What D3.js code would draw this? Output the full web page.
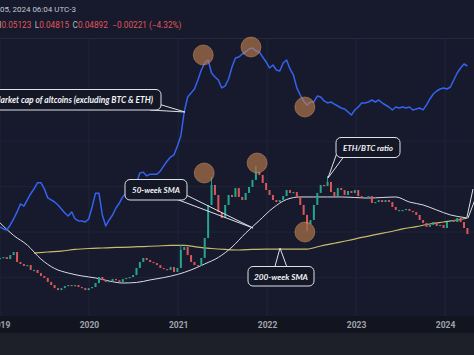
<!DOCTYPE html>
<html><head><meta charset="utf-8">
<script src="https://cdn.jsdelivr.net/npm/d3@7"></script>
<style>html,body{margin:0;padding:0;background:#171b2d;overflow:hidden}</style>
</head><body><svg id="c" width="474" height="355"></svg>
<script>
// ---------- DATA (bi-weekly samples from 2019-01-01) ----------
const ethOpen0 = 0.0350;
const ethClose = [0.0357,0.0362,0.0351,0.0373,0.0390,0.0335,0.0324,0.0313,0.0318,0.0291,
 0.0291,0.0274,0.0258,0.0247,0.0225,0.0208,0.0191,0.0180,0.0191,0.0202,
 0.0208,0.0202,0.0208,0.0197,0.0191,0.0180,0.0191,0.0197,0.0219,0.0252,
 0.0235,0.0225,0.0230,0.0241,0.0235,0.0225,0.0241,0.0247,0.0252,0.0263,
 0.0302,0.0335,0.0357,0.0346,0.0335,0.0329,0.0318,0.0302,0.0296,0.0291,
 0.0307,0.0280,0.0302,0.0401,0.0417,0.0373,0.0335,0.0318,0.0313,0.0357,
 0.0467,0.0649,0.0759,0.0704,0.0610,0.0577,0.0649,0.0704,0.0693,0.0742,
 0.0693,0.0676,0.0715,0.0748,0.0787,0.0831,0.0814,0.0770,0.0731,0.0704,
 0.0676,0.0665,0.0676,0.0698,0.0731,0.0715,0.0720,0.0693,0.0649,0.0594,
 0.0544,0.0566,0.0649,0.0715,0.0759,0.0753,0.0776,0.0720,0.0698,0.0742,
 0.0731,0.0704,0.0726,0.0715,0.0731,0.0698,0.0687,0.0693,0.0698,0.0660,
 0.0665,0.0676,0.0665,0.0676,0.0665,0.0638,0.0621,0.0621,0.0621,0.0627,
 0.0616,0.0610,0.0594,0.0566,0.0550,0.0528,0.0539,0.0555,0.0533,0.0539,
 0.0522,0.0555,0.0566,0.0555,0.0577,0.0555,0.0522,0.0489];
// notable wicks: [index, high, low]
const ethWicks = [[62,0.0803,null],[75,0.0864,null],[96,0.0809,null],[90,null,0.0506],[53,0.0430,null]];
// market cap of altcoins excl. BTC & ETH, $ billions
const altCap = [64.9,62.9,61.9,67.0,73.7,82.4,93.5,90.5,99.7,110,
 119,131,131,119,103,99.7,96.5,92.0,86.3,81.0,
 77.3,82.4,73.7,71.4,71.4,70.3,73.7,89.2,111,111,
 78.5,66.0,72.5,78.5,87.7,95.0,105,111,117,124,
 131,153,155,146,150,150,150,158,171,185,
 197,204,235,275,403,511,544,580,669,784,
 877,919,748,702,669,590,609,680,823,949,
 964,1011,1044,1095,1112,1061,1044,964,891,810,
 849,784,772,877,919,797,725,590,527,480,
 450,472,472,519,511,480,465,472,457,443,
 429,422,403,384,416,436,465,465,472,487,
 472,487,465,450,436,416,436,429,436,429,
 436,416,422,429,416,450,495,536,562,580,
 590,580,599,669,748,810,863,836];
const sma50Idx = [0,4,8,12,16,20,24,28,32,36,40,44,48,52,56,60,64,68,72,76,80,84,88,92,96,100,104,108,112,116,120,124,128,132,136,137];
const sma50 = [0.0550,0.0481,0.0428,0.0351,0.0299,0.0274,0.0258,0.0247,0.0230,0.0219,0.0222,0.0236,0.0249,0.0266,0.0291,0.0324,0.0360,0.0417,0.0494,0.0563,0.0632,0.0679,0.0693,0.0693,0.0693,0.0693,0.0690,0.0687,0.0690,0.0693,0.0665,0.0649,0.0621,0.0594,0.0580,0.0577];
const sma200Idx = [10,14,18,22,26,30,34,38,42,46,50,54,58,62,66,70,74,78,82,86,90,94,98,102,106,110,114,118,122,126,130,134,137];
const sma200 = [0.0384,0.0390,0.0395,0.0404,0.0409,0.0412,0.0415,0.0417,0.0420,0.0423,0.0426,0.0426,0.0417,0.0409,0.0404,0.0401,0.0404,0.0406,0.0406,0.0406,0.0406,0.0423,0.0438,0.0453,0.0470,0.0486,0.0500,0.0517,0.0530,0.0544,0.0555,0.0566,0.0577];
const altHighlights = [[59.6,995],[73.6,1130],[89.4,436]];
const ethHighlights = [[59.9,0.0825],[75.4,0.0880],[89.4,0.0500]];
const yearTicks = [2019,2020,2021,2022,2023,2024];
const headerDate = "05, 2024 06:04 UTC-3";
const ohlcLabels = ["H","L","C"];
const ohlcValues = ["0.05123","0.04815","0.04892"];
const changeText = "\u22120.00221 (\u22124.32%)";

// ---------- SCALES ----------
const W=474,H=355;
const start = new Date(2019,0,1);
const dateAt = i => d3.timeDay.offset(start, 14*i);
const x = d3.scaleTime().domain([new Date(2019,0,1), new Date(2024,0,1)]).range([0,445]);
const yEth = d3.scaleLinear().domain([0.05,0.088]).range([232,163]);
const yAlt = d3.scaleLog().domain([50,1130]).range([243.4,47]);

const svg = d3.select('#c');
svg.append('rect').attr('width',W).attr('height',H).attr('fill','#161a2c');

// grid
const grid = svg.append('g');
grid.selectAll('line.v').data(yearTicks).join('line')
  .attr('x1',d=>x(new Date(d,0,1))).attr('x2',d=>x(new Date(d,0,1)))
  .attr('y1',38).attr('y2',316).attr('stroke','#20253a').attr('stroke-width',1);
grid.selectAll('line.h').data([0.025,0.05,0.075,0.1]).join('line')
  .attr('x1',0).attr('x2',W).attr('y1',d=>yEth(d)).attr('y2',d=>yEth(d))
  .attr('stroke','#1e2336').attr('stroke-width',1);
grid.append('line').attr('x1',0).attr('x2',W).attr('y1',38.5).attr('y2',38.5).attr('stroke','#23283a');

// SMA lines
const smaLine = d3.line().x(d=>x(dateAt(d[0]))).y(d=>yEth(d[1])).curve(d3.curveMonotoneX);
svg.append('path').datum(sma200Idx.map((d,i)=>[d,sma200[i]]))
  .attr('d',smaLine).attr('fill','none').attr('stroke','#c9bb6c').attr('stroke-width',1.2);
svg.append('path').datum(sma50Idx.map((d,i)=>[d,sma50[i]]))
  .attr('d',smaLine).attr('fill','none').attr('stroke','#d9dbe3').attr('stroke-width',1);

// candles
const candles = ethClose.map((c,i)=>({i, o: i===0?ethOpen0:ethClose[i-1], c}));
const cg = svg.append('g');
const up='#26a48e', dn='#dc565a';
ethWicks.forEach(w=>{
  const d = candles[w[0]];
  const hi = w[1]!==null ? w[1] : Math.max(d.o,d.c);
  const lo = w[2]!==null ? w[2] : Math.min(d.o,d.c);
  cg.append('line').attr('x1',x(dateAt(d.i))).attr('x2',x(dateAt(d.i)))
    .attr('y1',yEth(hi)).attr('y2',yEth(lo))
    .attr('stroke', d.c>=d.o?up:dn).attr('stroke-width',1);
});
cg.selectAll('rect').data(candles).join('rect')
  .attr('x',d=>x(dateAt(d.i))-1).attr('width',2)
  .attr('y',d=>yEth(Math.max(d.o,d.c)))
  .attr('height',d=>Math.max(1.2,Math.abs(yEth(d.o)-yEth(d.c))))
  .attr('fill',d=>d.c>=d.o?up:dn);

// altcoin market cap line
svg.append('path').datum(altCap)
  .attr('d', d3.line().x((d,i)=>x(dateAt(i))).y(d=>yAlt(d)))
  .attr('fill','none').attr('stroke','#3562f0').attr('stroke-width',1.5).attr('stroke-linejoin','round');

// highlight circles
const hl = svg.append('g');
hl.selectAll('circle.a').data(altHighlights).join('circle')
  .attr('cx',d=>x(dateAt(d[0]))).attr('cy',d=>yAlt(d[1])).attr('r',10);
hl.selectAll('circle.e').data(ethHighlights).join('circle')
  .attr('cx',d=>x(dateAt(d[0]))).attr('cy',d=>yEth(d[1])).attr('r',10);
hl.selectAll('circle').attr('fill','#c8844e').attr('fill-opacity',0.6)
  .attr('stroke','#d99a66').attr('stroke-opacity',0.45).attr('stroke-width',1);

// callouts
function fit(t, width){
  const w = t.node().getComputedTextLength();
  const fs = parseFloat(t.attr('font-size'));
  t.attr('font-size', (fs*width/w).toFixed(2));
}
function callout(box, tails, text, tx, ty, tw, anchor){
  const g = svg.append('g');
  tails.forEach(l=>g.append('line').attr('x1',l[0]).attr('y1',l[1]).attr('x2',l[2]).attr('y2',l[3])
     .attr('stroke','#dfe1e8').attr('stroke-width',1));
  if(box){
    g.append('rect').attr('x',box[0]).attr('y',box[1]).attr('width',box[2]).attr('height',box[3])
     .attr('rx',5).attr('fill','#141826').attr('stroke','#dfe1e8').attr('stroke-width',1);
    const t = g.append('text').attr('x',tx).attr('y',ty).attr('text-anchor',anchor||'middle')
     .attr('dominant-baseline','central')
     .attr('font-family','Lato, "Open Sans", sans-serif').attr('font-style','italic').attr('font-weight','bold')
     .attr('font-size',9).attr('fill','#f2f3f6').text(text);
    fit(t, tw);
  }
}
callout([-12,89.5,173,20.5],[[155,103,185,112],[150,110,185,112]],"Market cap of altcoins (excluding BTC & ETH)",153,100,160,'end');
callout([125,179.5,62,20.5],[[180,192,253,228],[176,199,253,228]],"50-week SMA",156,190,48);
callout([336,137.5,64,20],[[338,150,328,178],[345,155,328,178]],"ETH/BTC ratio",368,147.7,50);
callout([248,266.5,66,19.5],[[274,270,280,248],[288,270,280,248]],"200-week SMA",281,276.5,54);
callout(null,[[467,217,473,189],[468,218,476,197]]);

// header
const h1 = svg.append('text').attr('x',0).attr('y',11.5).attr('font-family','Roboto, sans-serif')
  .attr('font-size',8).attr('fill','#c5c8d0').text(headerDate);
fit(h1, 76);
const h2 = svg.append('text').attr('x',-4.5).attr('y',28).attr('font-family','Roboto, sans-serif')
  .attr('font-size',8);
ohlcLabels.forEach((l,i)=>{
  h2.append('tspan').attr('fill','#b4b7c0').attr('dx', i===0?0:3.5).text(l);
  h2.append('tspan').attr('fill','#e0575b').text(ohlcValues[i]);
});
h2.append('tspan').attr('fill','#e0575b').attr('dx',4.5).text(changeText);
fit(h2, 174.5);

// x axis
svg.append('rect').attr('x',0).attr('y',316).attr('width',W).attr('height',17).attr('fill','#12151f');
svg.append('rect').attr('x',0).attr('y',333).attr('width',W).attr('height',22).attr('fill','#1e2029');
const ax = svg.append('g').attr('transform','translate(0,317)')
  .call(d3.axisBottom(x).tickValues(yearTicks.map(y=>new Date(y,0,1))).tickFormat(d3.timeFormat('%Y')).tickSize(0).tickPadding(5));
ax.select('.domain').remove();
ax.selectAll('text').attr('fill','#a1a4ad').attr('font-family','Roboto, sans-serif')
  .attr('font-weight','bold').attr('font-size',8.5);
</script></body></html>
